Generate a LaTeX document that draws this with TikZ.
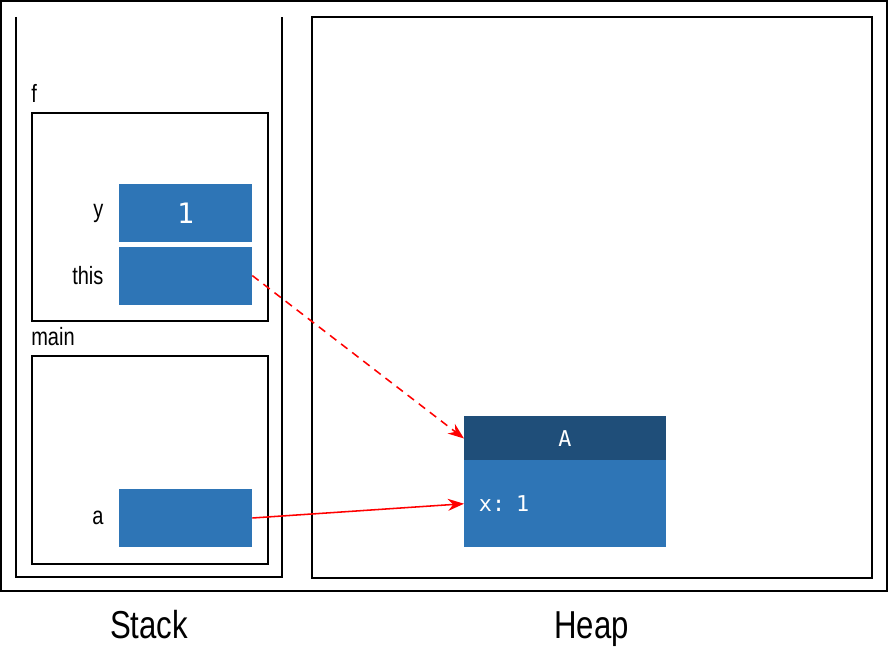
\documentclass[tikz,border=0pt]{standalone}
\usepackage{fontspec}
\setmainfont{Liberation Sans}[FakeStretch=0.8]
\setmonofont{DejaVu Sans Mono}
\usetikzlibrary{arrows.meta}
\usetikzlibrary{positioning}
\definecolor{cellblue}{RGB}{46,117,182}
\definecolor{headblue}{RGB}{31,78,121}
\definecolor{ptrred}  {RGB}{255,0,0}

\begin{document}
\begin{tikzpicture}[x=0.025cm, y=-0.025cm,
    frame/.style={draw=black, line width=1.4pt, inner sep=0pt},
    cell/.style={fill=cellblue, inner sep=0pt,
                 minimum width=3.325cm, minimum height=1.45cm,
                 text=white, font=\ttfamily\fontsize{20}{20}\selectfont},
    varname/.style={inner sep=0pt, font=\fontsize{17.8}{18}\selectfont},
    areaname/.style={inner sep=0pt, font=\fontsize{27.7}{28}\selectfont},
    pointer/.style={draw=ptrred, line width=1.1pt,
                    -{Stealth[length=0.4cm, width=0.3cm]}}]
            \useasboundingbox (0,0) rectangle (888,668);

            % outer border
            \draw [line width=1.4pt] (1,1) rectangle (887,591);

            % stack (open at the top)
            \draw [line width=1.4pt] (16,17) -- (16,577) -- (282,577) -- (282,17);

            % heap
            \node (heap)
              [frame, anchor=north west,
               minimum width=14cm, minimum height=14.025cm]
              at(311,16) {};

            % frames
            \node (f)
              [frame, anchor=north west,
               minimum width=5.9cm, minimum height=5.2cm]
              at(31,112) {};
            \node (fname)
              [varname, anchor=base west]
              at ([yshift=0.225cm]f.north west) {f};

            \node (main)
              [frame, anchor=north west,
               minimum width=5.9cm, minimum height=5.2cm]
              at(31,355) {};
            \node (mainname)
              [varname, anchor=base west]
              at ([yshift=0.225cm]main.north west) {main};

            % variables of f
            \node (ycell)
              [cell]
              at(185.5,213) {1};
            \node (thiscell)
              [cell, below=0.1cm of ycell]
              {};
            \node (yname) [varname, left=0.375cm of ycell] {y};
            \node (thisname) [varname, left=0.375cm of thiscell] {this};

            % variables of main
            \node (acell)
              [cell]
              at(185.5,518) {};
            \node (aname) [varname, left=0.375cm of acell] {a};

            % object on the heap
            \node (Ahead)
              [fill=headblue, inner sep=0pt, outer sep=0pt,
               minimum width=5.05cm, minimum height=1.1cm,
               text=white, font=\ttfamily\fontsize{15.5}{16}\selectfont]
              at(565,438.5) {A};
            \node (Abody)
              [below=-0.2pt of Ahead,
               fill=cellblue, inner ysep=0pt, inner xsep=0.375cm, outer sep=0pt,
               text width=4.3cm, align=left,
               minimum height=2.175cm,
               text=white, font=\ttfamily\fontsize{15.5}{16}\selectfont]
              {x: 1};

            % area names
            \node (stackname) [areaname, anchor=base] at(149,638) {Stack};
            \node (heapname) [areaname, anchor=base] at(591.5,638) {Heap};

            % pointers
            \draw [pointer, dash pattern=on 0.2cm off 0.15cm]
              (thiscell.east) -- (Ahead.west);
            \draw [pointer]
              (acell.east) -- (Abody.west);
        \end{tikzpicture}
\end{document}
